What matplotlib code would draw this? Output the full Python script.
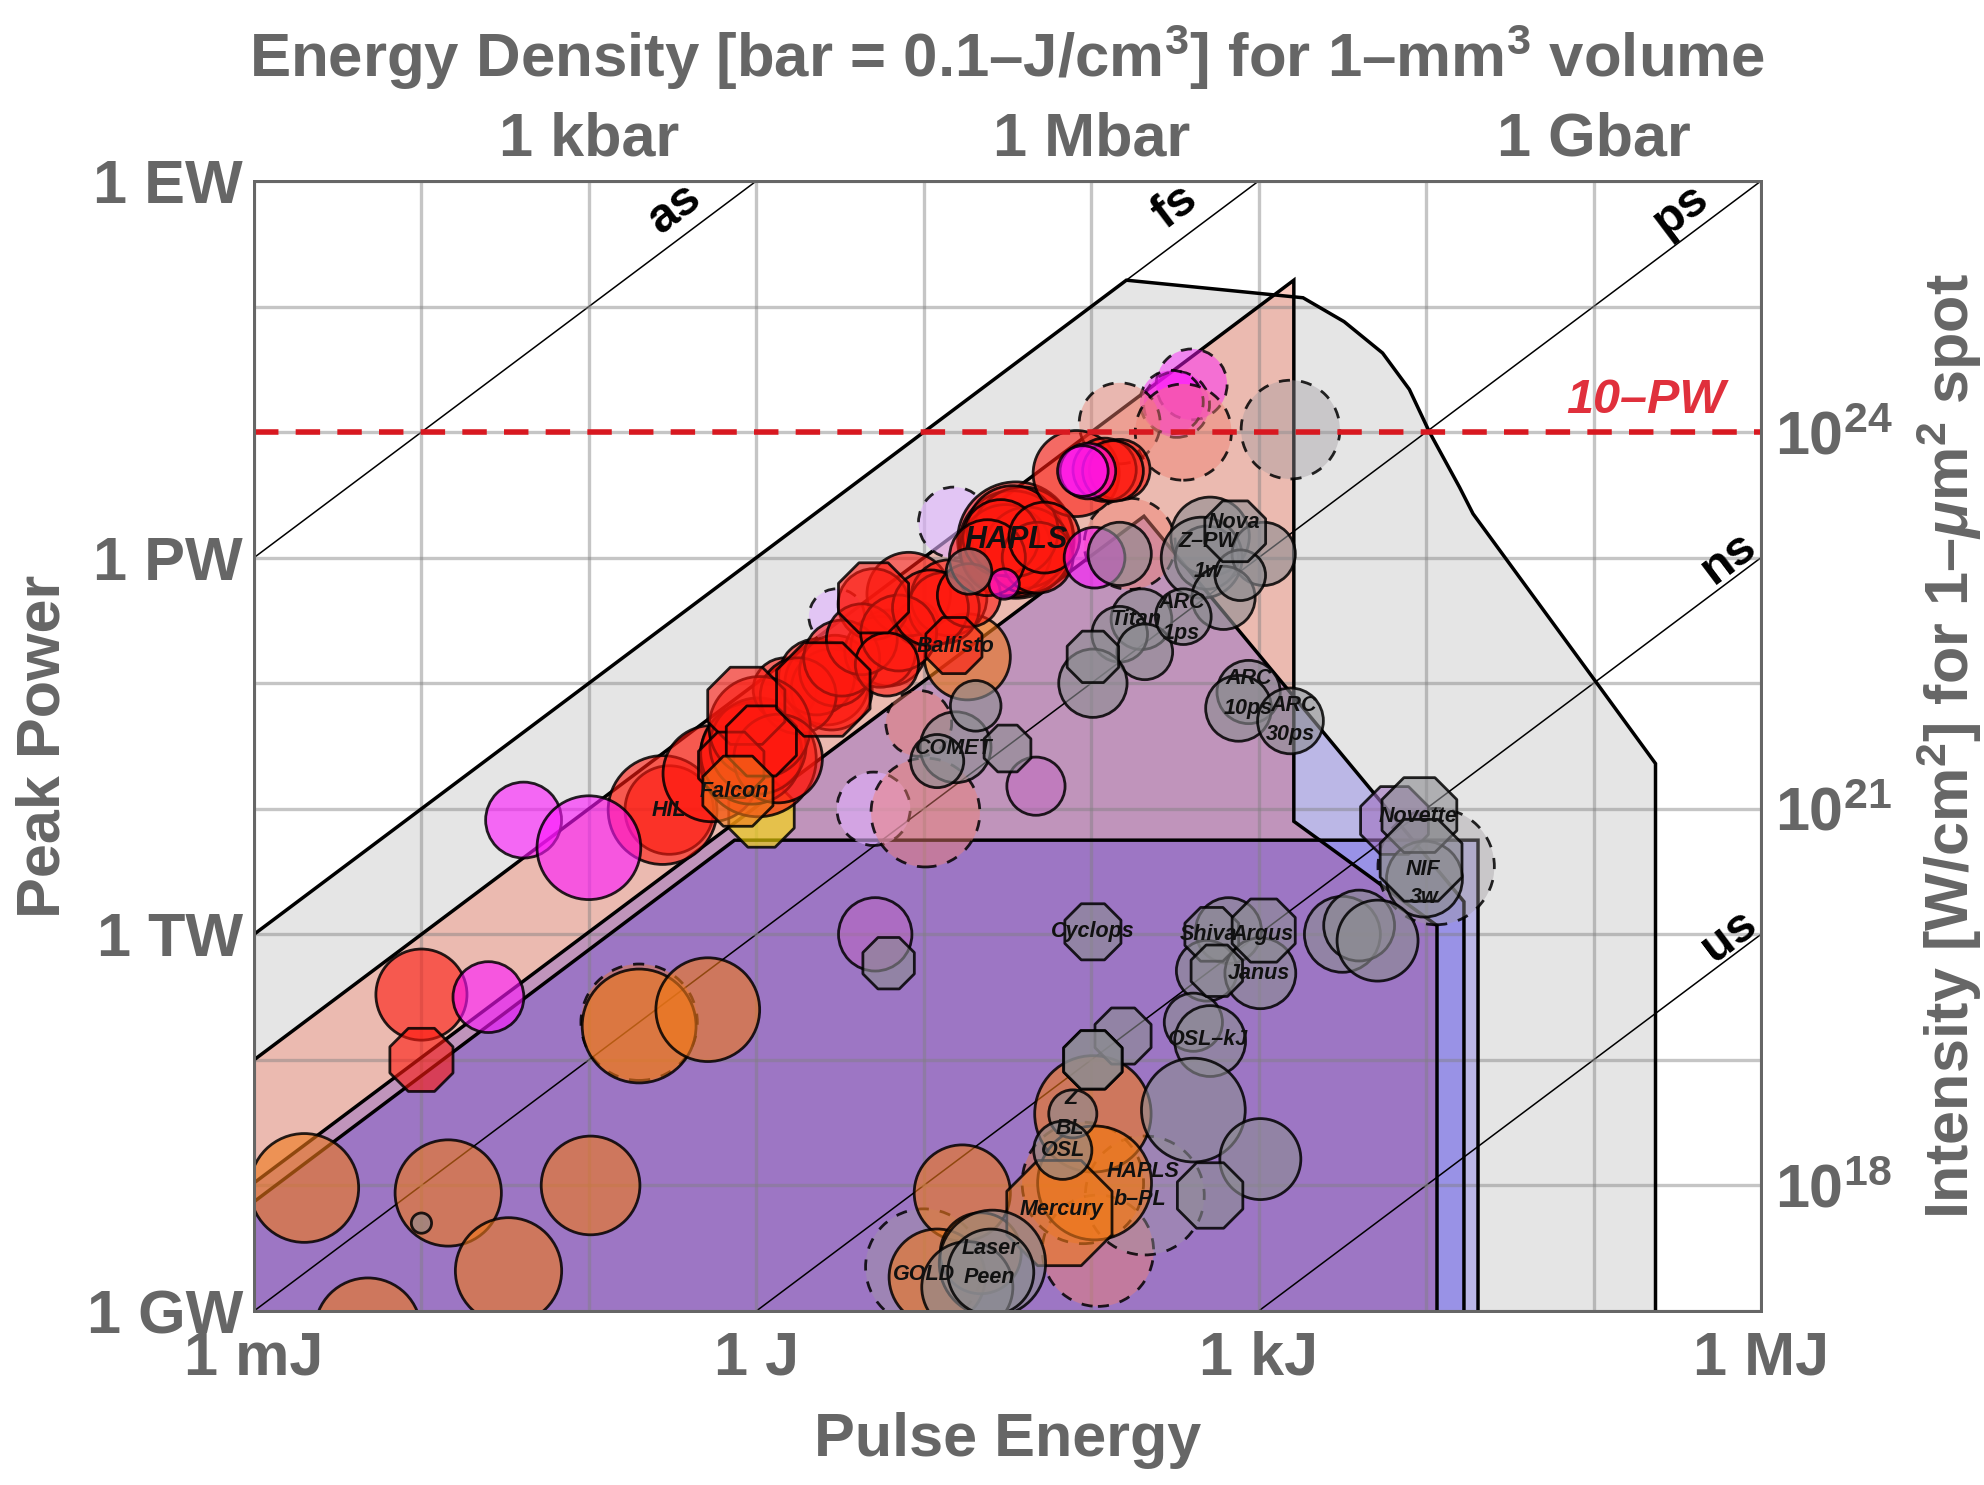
import numpy as np
import matplotlib
matplotlib.use("Agg")
import matplotlib.pyplot as plt
from matplotlib.colors import to_rgba
from matplotlib.ticker import NullFormatter

plt.rcParams["font.family"] = ["Liberation Sans", "DejaVu Sans"]
plt.rcParams["font.weight"] = "bold"
plt.rcParams["mathtext.fontset"] = "custom"
plt.rcParams["mathtext.rm"] = "Liberation Sans:bold"
plt.rcParams["mathtext.bf"] = "Liberation Sans:bold"
plt.rcParams["mathtext.it"] = "Liberation Sans:bold:italic"

# axis ticks (log10 J, log10 W)
energy_ticks = [-3, 0, 3, 6]
energy_labels = ["1 mJ", "1 J", "1 kJ", "1 MJ"]
power_ticks = [9, 12, 15, 18]
power_labels = ["1 GW", "1 TW", "1 PW", "1 EW"]
density_ticks = [-1, 2, 5]
density_labels = ["1 kbar", "1 Mbar", "1 Gbar"]
intensity_ticks = [10, 13, 16]
intensity_labels = [r"10$^{18}$", r"10$^{21}$", r"10$^{24}$"]

# duration lines: log10(P) = log10(E) + offset
duration_names = ["as", "fs", "ps", "ns", "us"]
duration_offset = [18, 15, 12, 9, 6]
duration_label_logE = [-0.49, 2.50, 5.52, 5.81, 5.81]
duration_label_logP = [17.78, 17.79, 17.77, 15.0, 11.99]

# regions (outline from the left/top to the bottom edge)
envelope_logE = [-3, 2.21, 3.265, 3.51, 3.74, 3.90, 4.02, 4.2, 4.28, 5.02, 5.37, 5.37]
envelope_logP = [12, 17.21, 17.07, 16.88, 16.63, 16.34, 16.0, 15.56, 15.35, 14.0, 13.36, 9]
pink_logE = [-3, 3.21, 3.21, 4.065, 4.065]
pink_logP = [11, 17.21, 12.9, 12.07, 9]
blue_logE = [-3, 2.315, 4.226, 4.226]
blue_logP = [10.02, 15.33, 12.26, 9]
shelf_logE = [-3, -0.13, 4.31, 4.31]
shelf_logP = [9.87, 12.75, 12.75, 9]

# systems: log10 energy, log10 power, bubble radius
red_logE = [-2.0, -0.52, -0.56, -0.27, 0.01, -0.03, 0.01, 0.17, 0.42, 0.45, 0.36, 0.47, 0.79, 0.74, 0.96, 0.91,
            0.70, 1.15, 1.12, 1.55, 1.53, 1.59, 1.49, 1.62, 1.53, 1.46, 1.68, 1.91, 2.17, 2.08, 2.13,
            0.25, 0.51, 0.63, 0.85, 1.04, 1.27, 0.78, 0.02, 1.38, 1.72, 0.13]
red_logP = [11.52, 12.99, 12.99, 13.28, 13.40, 13.44, 13.50, 13.95, 14.0, 13.95, 14.05, 14.10, 14.28, 14.25, 14.48, 14.71,
            14.63, 14.68, 14.60, 15.14, 15.11, 15.16, 15.06, 15.06, 15.21, 15.16, 15.0, 15.67, 15.70, 15.70, 15.69,
            13.90, 14.20, 14.35, 14.40, 14.60, 14.70, 14.15, 13.65, 15.0, 15.16, 13.40]
red_size = [36, 35, 43, 38, 46, 40, 38, 25, 33, 32, 30, 28, 30, 28, 17, 33,
            28, 30, 28, 46, 42, 40, 36, 34, 36, 30, 28, 34, 24, 25, 24,
            30, 30, 28, 30, 30, 25, 25, 40, 30, 28, 35]

red_oct_logE = [-2.0, -0.06, -0.15, 0.03, 0.40, 0.70, 1.18]
red_oct_logP = [11.0, 13.82, 13.35, 13.54, 13.95, 14.68, 14.30]
red_oct_size = [27, 33, 28, 30, 40, 30, 24]

orange_logE = [1.26, -2.70, -1.84, -0.99, -1.48, -2.32, -0.70, -0.29, 2.01, 2.02, 1.23, 1.08, 1.34]
orange_logP = [14.21, 9.98, 9.94, 10.0, 9.32, 8.84, 11.27, 11.40, 10.57, 10.02, 9.94, 9.27, 9.46]
orange_size = [34, 43, 42, 39, 42, 42, 45, 41, 46, 45, 38, 38, 32]

orange_oct_logE = [-0.11, 1.81]
orange_oct_logP = [13.14, 9.78]
orange_oct_size = [30, 45]

yellow_oct_logE = [0.03]
yellow_oct_logP = [12.96]
yellow_oct_size = [28]

magenta_logE = [-1.39, -1.00, -1.60, 2.02, 1.98, 1.95, 1.48]
magenta_logP = [12.91, 12.69, 11.50, 15.00, 15.69, 15.69, 14.79]
magenta_size = [30, 41, 28, 24, 22, 20, 12]

violet_logE = [1.67, 0.71]
violet_logP = [13.18, 12.0]
violet_size = [23, 29]
violet_oct_logE = [3.81]
violet_oct_logP = [12.91]
violet_oct_size = [29]

gray_logE = [-2.0, 1.27, 2.17, 2.71, 2.69, 2.66, 3.03, 2.79, 2.89, 2.30, 2.17, 2.32, 2.55, 2.01, 2.94, 2.88, 3.19,
             1.19, 1.08, 1.31, 3.99, 3.50, 3.60, 3.71, 2.82, 2.69, 3.01, 2.61, 2.71, 1.89, 1.83, 2.61, 3.01, 1.41, 1.26, 1.40]
gray_logP = [9.70, 14.89, 15.03, 15.17, 15.0, 15.0, 15.03, 14.68, 14.86, 14.51, 14.39, 14.25, 14.53, 14.0, 13.93, 13.80, 13.70,
             13.49, 13.38, 13.82, 12.44, 12.0, 12.07, 11.95, 12.03, 11.71, 11.69, 11.30, 11.15, 10.57, 10.28, 10.60, 10.21, 9.38, 9.19, 9.31]
gray_size = [8, 18, 25, 31, 25, 32, 25, 25, 20, 24, 22, 22, 22, 27, 25, 26, 26,
             28, 21, 20, 30, 30, 28, 32, 26, 24, 28, 23, 28, 19, 23, 41, 32, 42, 36, 34]

gray_oct_logE = [1.50, 2.01, 2.86, 3.96, 3.97, 0.79, 2.01, 2.72, 3.03, 2.75, 2.19, 2.01, 2.01, 2.71]
gray_oct_logP = [13.48, 14.21, 15.21, 12.95, 12.59, 11.77, 12.02, 12.0, 12.03, 11.71, 11.19, 11.0, 11.0, 9.92]
gray_oct_size = [20, 22, 26, 32, 35, 22, 24, 23, 27, 22, 24, 25, 25, 28]

# planned systems (dashed)
dash_lilac_logE = [1.18, 0.48, 0.70]
dash_lilac_logP = [15.28, 14.53, 13.0]
dash_lilac_size = [28, 22, 29]
dash_magenta_logE = [2.60, 2.51, 2.48]
dash_magenta_logP = [16.38, 16.22, 16.24]
dash_magenta_size = [28, 26, 25]
dash_pink_logE = [2.17, 2.55, 1.01, 2.04, 0.97, 2.23]
dash_pink_logP = [16.07, 16.0, 12.97, 9.48, 13.68, 15.11]
dash_pink_size = [32, 38, 43, 44, 26, 36]
dash_gray_logE = [3.19, 4.06, 2.32, 1.0]
dash_gray_logP = [16.02, 12.54, 9.92, 9.35]
dash_gray_size = [39, 46, 47, 46]
dash_orange_logE = [-0.70, 1.95]
dash_orange_logP = [11.30, 10.02]
dash_orange_size = [46, 48]

# system names
name_text = ["HAPLS", "Nova", "Z–PW", "1w", "Titan", "ARC", "1ps", "Ballisto", "ARC", "10ps", "ARC", "30ps", "COMET",
             "Falcon", "HIL", "Novette", "NIF", "3w", "Cyclops", "Shiva", "Argus", "Janus", "OSL–kJ", "Z", "BL", "OSL",
             "HAPLS", "b–PL", "Mercury", "Laser", "Peen", "GOLD"]
name_logE = [1.55, 2.85, 2.70, 2.70, 2.27, 2.54, 2.54, 1.19, 2.94, 2.94, 3.21, 3.19, 1.18,
             -0.13, -0.52, 3.95, 3.98, 3.99, 2.01, 2.70, 3.02, 3.00, 2.70, 1.88, 1.87, 1.83,
             2.31, 2.29, 1.82, 1.40, 1.39, 1.00]
name_logP = [15.14, 15.28, 15.13, 14.89, 14.51, 14.64, 14.40, 14.29, 14.04, 13.80, 13.82, 13.59, 13.48,
             13.14, 12.99, 12.94, 12.52, 12.29, 12.02, 12.0, 12.0, 11.69, 11.16, 10.69, 10.45, 10.28,
             10.11, 9.89, 9.81, 9.50, 9.27, 9.29]

GRAY_TXT = "#666666"


def region(ax, logE, logP, color, alpha):
    x = 10.0 ** np.array(logE + [-3])
    y = 10.0 ** np.array(logP + [9])
    ax.fill(x, y, facecolor=to_rgba(color, alpha), edgecolor="none", zorder=1)
    ax.plot(x[:-1], y[:-1], color="k", lw=2.5, zorder=2.6, solid_joinstyle="miter")


def bubbles(ax, logE, logP, size, color, alpha=0.6, marker="o", dashed=False, z=3):
    # size is the bubble radius in px of a 1568 wide picture
    s = (1.822 * np.array(size, dtype=float)) ** 2
    ax.scatter(10.0 ** np.array(logE), 10.0 ** np.array(logP), s=s, marker=marker,
               facecolors=[to_rgba(color, alpha)], edgecolors=[(0, 0, 0, 0.85)],
               linewidths=2.0, linestyles=(0, (4, 4)) if dashed else "solid", zorder=z)


fig = plt.figure(figsize=(19.84, 14.85), dpi=100)
ax = fig.add_axes([254 / 1984, 1 - 1311 / 1485, 1507 / 1984, 1130 / 1485])
ax.set_xscale("log")
ax.set_yscale("log")
ax.set_xlim(1e-3, 1e6)
ax.set_ylim(1e9, 1e18)

region(ax, envelope_logE, envelope_logP, "#e5e5e5", 1.0)
region(ax, pink_logE, pink_logP, "#f96a4d", 0.35)
region(ax, blue_logE, blue_logP, "#1400eb", 0.2)
region(ax, shelf_logE, shelf_logP, "#1400eb", 0.2)

xx = np.array([-3.0, 6.0])
for off in duration_offset:
    ax.plot(10.0 ** xx, 10.0 ** (xx + off), color="k", lw=1.1, zorder=2.2)
for name, e, p in zip(duration_names, duration_label_logE, duration_label_logP):
    ax.text(10.0 ** e, 10.0 ** p, name, rotation=37, ha="center", va="center",
            fontsize=35, color="k", zorder=8)

# grid on every decade, above the filled regions
ax.set_axisbelow(False)
ax.set_xticks(10.0 ** np.array(energy_ticks), energy_labels)
ax.set_yticks(10.0 ** np.array(power_ticks), power_labels)
ax.set_xticks(10.0 ** np.arange(-3.0, 7.0), minor=True)
ax.set_yticks(10.0 ** np.arange(9.0, 19.0), minor=True)
ax.xaxis.set_minor_formatter(NullFormatter())
ax.yaxis.set_minor_formatter(NullFormatter())
ax.grid(True, which="both", color="#808080", alpha=0.45, lw=2.4)
ax.tick_params(which="both", length=0)
ax.tick_params(axis="x", which="major", labelsize=44, labelcolor=GRAY_TXT, pad=14)
ax.tick_params(axis="y", which="major", labelsize=44, labelcolor=GRAY_TXT, pad=8)
ax.set_xlabel("Pulse Energy", fontsize=44, color=GRAY_TXT, fontweight="bold", labelpad=18)
ax.set_ylabel("Peak Power", fontsize=44, color=GRAY_TXT, fontweight="bold", labelpad=10)

# planned ones first, then the built ones
bubbles(ax, dash_lilac_logE, dash_lilac_logP, dash_lilac_size, "#e0b0ff", 0.6, dashed=True)
bubbles(ax, dash_magenta_logE, dash_magenta_logP, dash_magenta_size, "#ff14ff", 0.45, dashed=True)
bubbles(ax, dash_pink_logE, dash_pink_logP, dash_pink_size, "#f08070", 0.45, dashed=True)
bubbles(ax, dash_gray_logE, dash_gray_logP, dash_gray_size, "#a09aa0", 0.4, dashed=True)
bubbles(ax, dash_orange_logE, dash_orange_logP, dash_orange_size, "#f07819", 0.4, dashed=True)
bubbles(ax, violet_logE, violet_logP, violet_size, "#c060c0", 0.45)
bubbles(ax, violet_oct_logE, violet_oct_logP, violet_oct_size, "#a070c0", 0.6, marker="8")
bubbles(ax, yellow_oct_logE, yellow_oct_logP, yellow_oct_size, "#ffe000", 0.6, marker="8")
bubbles(ax, orange_logE, orange_logP, orange_size, "#f07819", 0.6)
bubbles(ax, red_logE, red_logP, red_size, "#ff190f", 0.6, z=3.1)
bubbles(ax, red_oct_logE, red_oct_logP, red_oct_size, "#ff190f", 0.6, marker="8", z=3.1)
bubbles(ax, orange_oct_logE, orange_oct_logP, orange_oct_size, "#f07819", 0.6, marker="8", z=3.2)
bubbles(ax, magenta_logE, magenta_logP, magenta_size, "#ff14ff", 0.6, z=3.3)
bubbles(ax, gray_logE, gray_logP, gray_size, "#8c8c91", 0.6, z=3.4)
bubbles(ax, gray_oct_logE, gray_oct_logP, gray_oct_size, "#8c8c91", 0.6, marker="8", z=3.4)

for name, e, p in zip(name_text, name_logE, name_logP):
    ax.text(10.0 ** e, 10.0 ** p, name, ha="center", va="center", style="italic",
            fontsize=22 if (name == "HAPLS" and e < 2) else 15.5, color="#111111", zorder=7)

# 10-PW level
ax.axhline(1e16, color="#d81820", lw=4.0, ls=(0, (4.4, 3.1)), zorder=6)
ax.text(10.0 ** 5.31, 10.0 ** 16.25, "10–PW", style="italic", ha="center", va="center",
        fontsize=35, color="#e0303c", zorder=8)

# energy density on top, intensity on the right
top = ax.twiny()
top.set_xscale("log")
top.set_xlim(1e-3, 1e6)
top.set_xticks(10.0 ** np.array(density_ticks), density_labels)
top.xaxis.set_minor_locator(plt.NullLocator())
top.tick_params(axis="x", length=0, labelsize=44, labelcolor=GRAY_TXT, pad=9)
top.set_xlabel("Energy Density [bar = 0.1–J/cm$^{3}$] for 1–mm$^{3}$ volume",
               fontsize=44.5, color=GRAY_TXT, fontweight="bold", labelpad=25)

right = ax.twinx()
right.set_yscale("log")
right.set_ylim(1e9, 1e18)
right.set_yticks(10.0 ** np.array(intensity_ticks), intensity_labels)
right.yaxis.set_minor_locator(plt.NullLocator())
right.tick_params(axis="y", length=0, labelsize=44, labelcolor=GRAY_TXT, pad=10)
right.set_ylabel(r"Intensity [W/cm$^{2}$] for 1–$\mu$m$^{2}$ spot",
                 fontsize=44, color=GRAY_TXT, fontweight="bold", labelpad=16)

for a in (ax, top, right):
    for sp in a.spines.values():
        sp.set_color("#666666")
        sp.set_linewidth(2.0)

fig.savefig("out.png", dpi=100)
